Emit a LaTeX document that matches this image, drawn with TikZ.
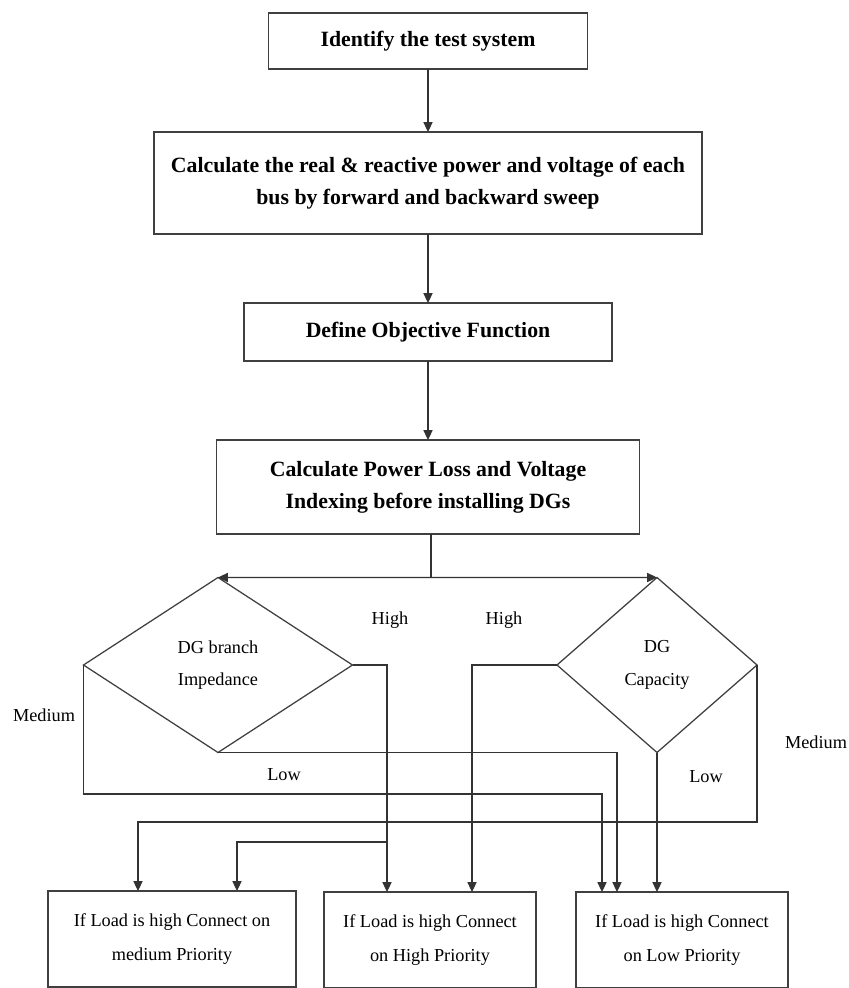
\documentclass[tikz,border=0pt]{standalone}
\usepackage{fontspec}
\setmainfont{Liberation Serif}
\usetikzlibrary{arrows.meta,shapes.geometric,positioning}

\begin{document}
\begin{tikzpicture}[
    x=0.25mm,y=-0.25mm,
    process/.style={draw=black!75,line width=0.9pt,align=center,
                    outer sep=0pt,inner sep=3pt,
                    font=\fontsize{15.5}{23}\selectfont\bfseries},
    decision/.style={diamond,draw=black!75,line width=0.9pt,align=center,
                     outer sep=0pt,inner sep=0pt,
                     font=\fontsize{13}{23}\selectfont},
    result/.style={draw=black!75,line width=0.9pt,align=center,
                   outer sep=0pt,minimum height=2.4cm,
                   font=\fontsize{13}{24}\selectfont},
    lbl/.style={font=\fontsize{13}{15}\selectfont},
    wire/.style={line width=0.8pt,black!80},
    arr/.style={-{Triangle[length=7pt,width=6.5pt]},line width=0.8pt,black!80},
  ]
    \useasboundingbox (0,0) rectangle (848,988);
    % main column
    \node[process,minimum width=7.975cm,minimum height=1.4cm]
      (ident) at (428,41) {Identify the test system};
    \node[process,minimum width=13.7cm,minimum height=2.55cm,
      below=1.575cm of ident] (sweep)
      {Calculate the real \& reactive power and voltage of each\\
       bus by forward and backward sweep};
    \node[process,minimum width=9.2cm,minimum height=1.45cm,
      below=1.725cm of sweep] (objfn) {Define Objective Function};
    \node[process,minimum width=10.575cm,minimum height=2.35cm,
      below=1.975cm of objfn] (ploss)
      {Calculate Power Loss and Voltage\\Indexing before installing DGs};
    % decisions
    \node[decision,minimum width=6.725cm,minimum height=4.375cm]
      (imped) at (218,665) {DG branch\\Impedance};
    \node[decision,minimum width=5cm,minimum height=4.375cm]
      (capac) at (657,665) {DG\\Capacity};
    % outcomes
    \node[result,minimum width=6.2cm] (medpri) at (172,939)
      {If Load is high Connect on\\medium Priority};
    \node[result,minimum width=5.3cm] (highpri) at (430,940)
      {If Load is high Connect\\on High Priority};
    \node[result,minimum width=5.3cm] (lowpri) at (682,940)
      {If Load is high Connect\\on Low Priority};
    % branch labels
    \node[lbl] (hiL) at (390,620) {High};
    \node[lbl] (hiR) at (504,620) {High};
    \node[lbl] (medL) at (44,715) {Medium};
    \node[lbl] (medR) at (816,742) {Medium};
    \node[lbl] (lowL) at (284,775) {Low};
    \node[lbl] (lowR) at (706,777) {Low};
    % connectors
    \draw[arr] (ident) -- (sweep);
    \draw[arr] (sweep) -- (objfn);
    \draw[arr] (objfn) -- (ploss);
    \coordinate (fork) at (431,577.5);
    \draw[wire] (ploss.south -| fork) -- (fork);
    \draw[arr] (fork) -- (imped.north);
    \draw[arr] (fork) -- (capac.north);
    \draw[arr] (imped.east) -| ([xshift=-10.75mm]highpri.north);
    \coordinate (hibr) at (387,842);
    \draw[arr] (hibr) -| ([xshift=16.25mm]medpri.north);
    \draw[arr] (imped.south) -| ([xshift=-16.25mm]lowpri.north);
    \draw[arr] (imped.west) -- ++(0,129) -| ([xshift=-20mm]lowpri.north);
    \draw[arr] (capac.west) -| ([xshift=10.5mm]highpri.north);
    \draw[arr] (capac.south) -- (capac.south |- lowpri.north);
    \draw[arr] (capac.east) -- ++(0,157) -| ([xshift=-8.5mm]medpri.north);
  \end{tikzpicture}
\end{document}
